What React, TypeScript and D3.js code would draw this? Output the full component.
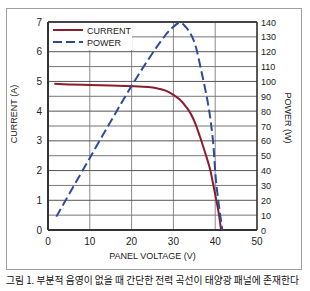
import React from "react";
import * as d3 from "d3";

const currentV = [1.5, 5, 10, 15, 20, 24, 26, 28, 30, 31.6, 33, 34, 35.2, 36.4, 37.6, 38.75, 39.5, 40.3, 40.9, 41.4];
const currentA = [4.92, 4.9, 4.88, 4.86, 4.84, 4.81, 4.77, 4.7, 4.55, 4.38, 4.15, 3.95, 3.6, 3.12, 2.6, 2.06, 1.55, 0.98, 0.52, 0];
const powerV = [2, 10, 20, 25, 27, 29.2, 31.6, 33, 34.8, 36.8, 38.4, 39.4, 40.3, 41.7];
const powerW = [9, 48.5, 97, 119, 127, 134.7, 139.5, 136.5, 128, 105.5, 83, 62, 30, 0];
const xTicks = [0, 10, 20, 30, 40, 50];
const yTicks = [0, 1, 2, 3, 4, 5, 6, 7];
const pTicks = [0, 10, 20, 30, 40, 50, 60, 70, 80, 90, 100, 110, 120, 130, 140];
const caption = "그림 1. 부분적 음영이 없을 때 간단한 전력 곡선이 태양광 패널에 존재한다";

const W = 310, H = 291;
const L = 48, R = 257, T = 22, B = 230;
const FONT = "'Liberation Sans Narrow', 'Liberation Sans', Arial, sans-serif";

export default function App() {
  const x = d3.scaleLinear().domain([0, 50]).range([L, R]);
  const y = d3.scaleLinear().domain([0, 7]).range([B, T]);
  const yp = d3.scaleLinear().domain([0, 140]).range([B, T]);
  const gridY = d3.range(0, 7.01, 0.5);

  const curLine = d3.line<number>()
    .x((_, i) => x(currentV[i]))
    .y((d) => y(d))
    .curve(d3.curveCatmullRom.alpha(0.5));
  const powLine = d3.line<number>()
    .x((_, i) => x(powerV[i]))
    .y((d) => yp(d))
    .curve(d3.curveCatmullRom.alpha(0.5));

  return (
    <svg width={W} height={H} style={{ position: "absolute", left: 0, top: 0, background: "#fff" }}>
      <rect x={6.5} y={8.5} width={295} height={261} fill="none" stroke="#a0a0a0" strokeWidth={1} />
      {xTicks.map((t) => (
        <line key={"vx" + t} x1={x(t)} x2={x(t)} y1={T} y2={B} stroke="#8a8a8a" strokeWidth={1} />
      ))}
      {gridY.map((t) => (
        <line key={"gy" + t} x1={L} x2={R} y1={y(t)} y2={y(t)} stroke={t % 1 === 0 ? "#555" : "#777"} strokeWidth={1} />
      ))}
      <rect x={L + 1} y={T + 1} width={83} height={27} fill="#fff" />
      <line x1={L} x2={R} y1={T} y2={T} stroke="#444" strokeWidth={2} />
      <line x1={L} x2={R} y1={B} y2={B} stroke="#333" strokeWidth={2} />
      <line x1={L} x2={L} y1={T} y2={B} stroke="#333" strokeWidth={2} />
      <line x1={R} x2={R} y1={T} y2={B} stroke="#333" strokeWidth={1.5} />

      <path d={curLine(currentA) || ""} fill="none" stroke="#8b1c2c" strokeWidth={2} />
      <path d={powLine(powerW) || ""} fill="none" stroke="#2e4a99" strokeWidth={2} strokeDasharray="9,4" />

      <line x1={53} x2={83} y1={30} y2={30} stroke="#8b1c2c" strokeWidth={2} />
      <line x1={53} x2={83} y1={42} y2={42} stroke="#2e4a99" strokeWidth={2} strokeDasharray="9,4" />
      <text x={87} y={33.5} fontSize={9} fontFamily={FONT} fill="#222">CURRENT</text>
      <text x={87} y={45.5} fontSize={9} fontFamily={FONT} fill="#222">POWER</text>

      {yTicks.map((t) => (
        <text key={"yt" + t} x={42} y={y(t) + 3.5} fontSize={10} fontFamily={FONT} textAnchor="end" fill="#222">{t}</text>
      ))}
      {pTicks.map((t) => (
        <text key={"pt" + t} x={261} y={yp(t) + 3.5} fontSize={9} fontFamily={FONT} fill="#222">{t}</text>
      ))}
      {xTicks.map((t) => (
        <text key={"xt" + t} x={x(t)} y={245} fontSize={10} fontFamily={FONT} textAnchor="middle" fill="#222">{t}</text>
      ))}
      <text x={152.5} y={259} fontSize={9} fontFamily={FONT} textAnchor="middle" fill="#222">PANEL VOLTAGE (V)</text>
      <text transform="translate(17,114) rotate(-90)" fontSize={9} fontFamily={FONT} textAnchor="middle" fill="#222">CURRENT (A)</text>
      <text transform="translate(285,118) rotate(90)" fontSize={9} fontFamily={FONT} textAnchor="middle" fill="#222">POWER (W)</text>
      <text x={6} y={284} fontSize={10} fontFamily="'Noto Sans CJK KR', sans-serif" fill="#111" textLength={293} lengthAdjust="spacingAndGlyphs">{caption}</text>
    </svg>
  );
}
